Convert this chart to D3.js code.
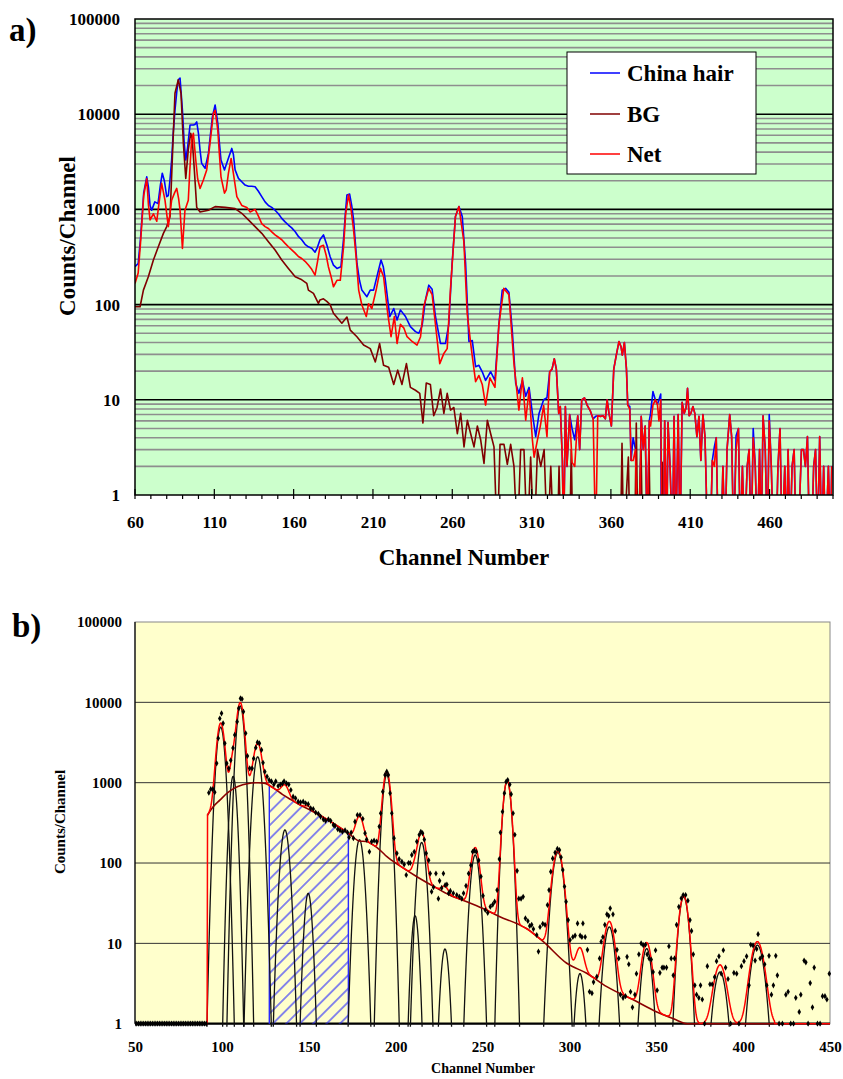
<!DOCTYPE html>
<html><head><meta charset="utf-8">
<script src="https://cdn.jsdelivr.net/npm/d3@7"></script>
<style>
body{margin:0;background:#fff}
svg{display:block}
text{font-family:"Liberation Serif","Times New Roman",serif;font-weight:bold;fill:#000}
</style></head>
<body><svg id="c" width="843" height="1079"></svg>
<script>
// ---------------- Panel a) data : [channel, counts] ----------------
const yTickValues = [1, 10, 100, 1000, 10000, 100000];
const xTicksA = [60, 110, 160, 210, 260, 310, 360, 410, 460];
const xTicksB = [50, 100, 150, 200, 250, 300, 350, 400, 450];
const seriesNames = ["China hair", "BG", "Net"];

const chinaHair = [[60,250],[62,270],[63.5,500],[65.5,1500],[67.4,2200],[68.5,1700],[69.5,1100],[70.5,980],[72.5,1200],[74.5,1150],[76,1800],[77.2,2400],[78.5,2000],[80,1360],[81,1400],[82,2000],[83.1,3300],[84,6000],[85.2,11000],[86.3,17000],[87.3,23000],[88.4,24000],[89.9,11000],[91,5000],[92,3300],[93.2,4550],[94.7,7700],[96.8,7700],[97.8,7800],[98.9,8300],[100,6300],[101,4200],[102,3050],[104.2,2700],[106.3,3900],[107.5,6000],[108.8,9400],[110.5,12500],[112.2,8000],[113.2,5000],[114.2,3300],[116.4,2600],[118.5,3300],[121,4370],[122,3800],[123.1,2600],[125.2,2120],[127.3,1950],[129.4,1800],[131.5,1750],[133.6,1750],[135.7,1730],[137.8,1550],[139.9,1360],[142,1200],[144.1,1100],[146.2,1050],[148.3,980],[150.4,900],[152.5,805],[154.6,740],[156.7,685],[158.8,640],[161,583],[163,520],[165.1,480],[167.2,430],[169.3,405],[171.4,390],[173.5,355],[175,400],[176.6,480],[178.8,540],[181,420],[183,318],[185.1,260],[187.3,240],[189.8,250],[191.5,497],[192.6,900],[193.6,1420],[195.3,1450],[196.6,1100],[197.8,775],[199.9,272],[201.5,180],[203,142],[206.2,121],[208.3,142],[210.4,142],[213,213],[215.1,294],[216.5,250],[217.8,181],[220.6,74.6],[223.1,91],[225.2,69],[227.3,88],[230.5,75],[233.6,58.6],[236.8,52],[238.9,50],[241,60],[243.1,112],[245.2,160],[247.3,145],[249.4,75],[252.6,39],[255.7,39],[257.8,62],[259.9,272],[262,840],[264.2,1070],[266.3,840],[268.4,272],[270.5,41],[272.6,42],[274.7,22.3],[276.8,23],[278.9,19.7],[281,16],[284.2,19.7],[286.9,16],[289.4,62],[291.5,142],[293.6,148],[295.7,135],[297.8,54],[300,14.8],[302,11.7],[304.2,16],[306.3,10.9],[308.4,13.5],[310.5,7.2],[312.6,4.1],[314.7,7.2],[317.6,10],[319.7,10.5],[321.4,19.7],[322.9,21],[324.3,27],[325.6,21],[327.1,7.2],[328.1,8.5],[329.4,2.3],[330.2,0],[331.3,8.5],[332.3,2],[334,7],[335.5,5],[337.2,3.8],[339.1,6.8],[340.3,3],[341.6,10],[343.3,10.5],[345,8.8],[347.1,7.6],[348.8,6.3],[350.4,6.7],[351.7,6.8],[353.4,6.7],[355.1,6.8],[356.5,6.3],[357.6,10],[358.8,7.2],[360.3,5.3],[361.8,21],[363.4,29.5],[365.1,41],[366.4,36],[367.2,29.5],[368.5,40],[369.8,21],[370.6,8.8],[371.9,8.5],[372.7,2.3],[374,4],[375.5,3],[376.6,0],[377.8,0],[379.1,6.7],[380.4,3],[381.6,5.3],[382.9,0],[384.2,6],[385,7.2],[386.5,12.2],[388,10],[389.3,9],[390.3,10],[391.4,11.5],[391.8,0],[393.1,0],[393.9,6],[395.2,0],[396,5.8],[397.3,2],[398.8,0],[399.8,6.7],[400.9,0],[402.4,7],[403.6,0],[404.9,9.4],[406.2,7.2],[407.4,8.3],[408.3,13.2],[409.3,6.8],[410.4,7.2],[411.7,8.5],[412.9,7.2],[414.2,4.1],[415.5,6.7],[416.7,2.3],[418,7],[419.3,4.1],[421,0],[422.6,0],[423.9,2.3],[425.2,3.2],[426.4,4],[427.7,0],[429.4,0],[430.6,2],[431.9,0],[433.2,3],[434.9,7],[436.1,4.1],[437.4,0],[438.9,4.2],[440.4,5],[441.6,0],[442.9,2],[444.2,0],[445.9,2],[447.1,3],[448.4,0],[449.7,5],[451,2],[452.3,0],[453.7,3],[454.8,0],[455.9,6.8],[457.3,3],[458.6,0],[459.8,7],[461.1,2],[462.4,0],[464.1,0],[465.3,2],[466.6,5],[467.9,0],[469.6,2],[470.8,0],[471.7,3],[472.9,0],[474.2,2],[475.5,3],[476.7,0],[478,0],[480.1,3],[481.4,3],[482.6,2],[483.9,4.1],[485.2,0],[486.5,0],[487.8,2],[489,3],[490.3,0],[491.6,4.1],[492.9,0],[494.1,2],[495.4,0],[497.1,2],[498.4,0],[499.2,2]];

const bgA = [[60,95],[63.2,95],[65.3,142],[68.4,196],[71.6,294],[74.7,405],[77.9,560],[80,660],[82.1,840],[83.5,3300],[85.2,16600],[87.3,23000],[89,16600],[90.5,4900],[92,2120],[93.6,4250],[95.1,6300],[96.1,5370],[97.4,2600],[98.9,1050],[101,940],[106.3,980],[110.5,1070],[116.8,1050],[123.1,1020],[127.3,910],[131.5,775],[135.7,660],[139.9,560],[144.1,458],[148.3,375],[152.5,294],[156.7,240],[161,196],[164.5,185],[168.3,167],[169.3,142],[172.5,131],[175.6,103],[176.6,112],[178.8,115],[180.9,108],[183,100],[185.1,81],[190.4,63.7],[193.6,74],[195.7,54],[199.9,46],[204.1,37.6],[208.3,34.5],[211.5,25],[214.2,39],[216.7,23],[219.9,22],[223.1,14.5],[225.6,20.5],[228.3,14.5],[231.1,24],[233.6,13.5],[236.8,12.6],[239.5,11.7],[241.5,5.7],[243.6,15],[246.2,14.5],[248.3,6.8],[250.4,8.3],[252.6,13],[254.7,7.2],[256.8,11.7],[258.9,7.8],[261,8.3],[263.2,4.4],[265.3,7.2],[267.4,3.2],[269.5,6.1],[271.6,4.4],[273.7,3.2],[275.8,5.3],[277.9,3.8],[280,2.15],[282.1,6.1],[284.2,4.4],[286.3,3.2],[288.4,0],[290.1,3.4],[292.6,3.4],[294.7,2.1],[296.8,3.4],[298.9,2],[301,0],[303.1,3],[305.2,3],[307.3,0],[309.4,2.5],[311.6,0],[313.7,3],[315.8,2],[317.9,3],[320,0],[322.1,2],[324,0],[326.3,0],[327.3,2],[328.5,0],[334,0],[335,3],[336,0],[366,0],[367,3.5],[368,0],[371,2.5],[372,0],[375,0],[376,5.7],[377,0],[379,3],[380,0],[383,0],[384,3],[385,0],[391.5,0],[392.4,2.2],[393,0],[500,0]];

const netA = [[60,167],[62,215],[63.5,450],[65.5,1400],[67.4,2100],[68.5,1100],[69.5,775],[71.6,900],[73.7,750],[75.5,1300],[76.8,1880],[78.9,1250],[81,660],[83.1,1250],[85,1500],[86.3,1660],[87.5,1300],[88.4,980],[89.9,390],[91.5,980],[93.6,1250],[94.5,2500],[95.7,5370],[96.8,6300],[98.3,3300],[99.5,2100],[101,1660],[103.1,2040],[105.2,2600],[107.3,4940],[109.4,10200],[110.5,11000],[112.2,6800],[113.2,3800],[114.2,2200],[116.4,1480],[117.5,1600],[118.9,2400],[120.6,3430],[122,2400],[124.2,1360],[127.3,1100],[130.5,1050],[132.6,940],[135.7,1000],[137.8,850],[139.9,710],[142,660],[144.1,630],[146.2,580],[148.3,540],[150.4,510],[152.5,480],[154.6,440],[156.7,405],[158.8,375],[161,347],[163,320],[165.1,305],[167.2,285],[169.3,260],[171.4,235],[173.5,204],[175,280],[176.6,405],[178.8,420],[180.5,330],[181.9,250],[183.5,200],[185.1,154],[187.3,180],[189.4,180],[191.5,405],[192.8,900],[194.6,1420],[196.2,1000],[197.8,606],[199.5,300],[201,142],[203,99],[205.8,75],[207.2,102],[209.3,91],[212,142],[214.7,240],[216.7,196],[219.3,81],[221.4,46],[223.5,75],[225.2,39],[227.3,62],[229.4,57],[231.5,46],[234.7,41],[237.8,37.6],[240,46],[242,95],[245.2,148],[247.3,127],[249.4,62],[252.1,24],[254.7,30.7],[256.8,34.5],[258.9,148],[262,840],[264.2,1070],[267.3,460],[269.4,81],[272,34.5],[274.7,15.5],[276.8,18],[278.9,14.5],[281,8.8],[283.7,17],[286.9,13.5],[289.4,62],[292.5,148],[295.7,127],[298.9,24],[302,7.8],[304.2,17],[306.3,6.1],[308.4,12.6],[310.5,3.8],[311.6,2.5],[313.7,3.8],[315.5,5.3],[317.6,8.7],[319.7,4.1],[321.4,19.7],[322.9,21],[324.3,27],[325.6,21],[327.1,7.2],[328.1,8.5],[329.4,2.3],[330.2,0],[331.3,8.5],[332.3,2],[334,7],[335.5,2.2],[337.2,2],[339.1,6.8],[340.3,3],[341.6,10],[343.3,10.5],[345,8.8],[347.1,7.6],[348.8,6.3],[350.4,0],[351.7,6.8],[353.4,6.7],[355.1,6.8],[356.5,6.3],[357.6,10],[358.8,7.2],[360.3,5.3],[361.8,21],[363.4,29.5],[365.1,41],[366.4,36],[367.2,29.5],[368.5,40],[369.8,21],[370.6,8.8],[371.9,8],[372.7,2.3],[374,2.3],[375.5,3],[376.6,0],[377.8,0],[379.1,6.7],[380.4,3],[381.6,5.3],[382.9,0],[384.2,6],[385,5.3],[386.5,8.8],[388,10],[389.3,9],[390.3,6],[391.4,10],[392.2,0],[393.1,0],[393.9,6],[395.2,0],[396,5.8],[397.3,2],[398.8,0],[399.8,6.7],[400.9,0],[402.4,7],[403.6,0],[404.9,9.4],[406.2,7.2],[407.4,8.3],[408.3,13.2],[409.3,6.8],[410.4,7.2],[411.7,8.5],[412.9,7.2],[414.2,4.1],[415.5,6.7],[416.7,2.3],[418,7],[419.3,4.1],[421,0],[422.6,0],[423.9,2.3],[425.2,2],[426.4,4],[427.7,0],[429.4,0],[430.6,2],[431.9,0],[433.2,3],[434.9,7],[436.1,4.1],[437.4,0],[438.9,3],[440.4,5],[441.6,0],[442.9,2],[444.2,0],[445.9,2],[447.1,3],[448.4,0],[449.7,4],[451,2],[452.3,0],[453.7,3],[454.8,0],[455.9,6.8],[457.3,3],[458.6,0],[459.8,6],[461.1,2],[462.4,0],[464.1,0],[465.3,2],[466.6,5],[467.9,0],[469.6,2],[470.8,0],[471.7,3],[472.9,0],[474.2,2],[475.5,3],[476.7,0],[478,0],[480.1,3],[481.4,3],[482.6,2],[483.9,4.1],[485.2,0],[486.5,0],[487.8,2],[489,3],[490.3,0],[491.6,4.1],[492.9,0],[494.1,2],[495.4,0],[497.1,2],[498.4,0],[499.2,2]];

// ---------------- Panel b) data ----------------
// measured spectrum (dots) : [channel, counts]
const spectrumB = [[50,1],[51,1],[52,1],[53,1],[54,1],[55,1],[56,1],[57,1],[58,1],[59,1],[60,1],[61,1],[62,1],[63,1],[64,1],[65,1],[66,1],[67,1],[68,1],[69,1],[70,1],[71,1],[72,1],[73,1],[74,1],[75,1],[76,1],[77,1],[78,1],[79,1],[80,1],[81,1],[82,1],[83,1],[84,1],[85,1],[86,1],[87,1],[88,1],[89,1],[90,1],[91,1],
[92.5,750],[93.6,830],[94.8,830],[95.9,760],[97,1740],[97.9,3570],[98.8,6300],[99.8,7300],[100.7,5480],[101.7,3090],[102.8,1740],[104,1510],[105.1,1900],[106.4,2700],[107.4,3930],[108.8,5750],[109.7,8430],[110.7,11200],[111.6,11000],[112.4,7650],[113.7,4120],[114.7,2150],[116,1510],[117.4,1510],[118.3,2000],[119.5,2730],[120.5,3180],[121.6,3090],[122.8,2560],[123.7,1770],[124.7,1370],[126,1190],[127.2,1080],[128.5,1040],[129.9,950],[131,1040],[132.4,910],[133.7,950],[134.9,980],[135.8,1040],[137.2,980],[138.5,950],[139.7,810],[141,670],[142.4,640],[143.9,580],[145.3,570],[146.8,580],[148.2,555],[149.7,540],[151.1,480],[152.6,470],[154,425],[155.5,410],[156.8,378],[158.4,350],[159.7,335],[161.3,350],[162.6,335],[164.2,298],[165.1,290],[166.7,263],[168,255],[169.4,245],[170.9,255],[172.3,240],[173.2,209],[174.4,240],[175.7,204],[176.6,327],[178,396],[179.5,396],[181.1,355],[182.4,235],[183.3,196],[184.9,138],[186.2,185],[187.6,190],[189.1,185],[190.6,284],[191.4,416],[192.6,773],[193.9,1250],[194.9,1370],[195.8,1250],[196.8,740],[197.8,416],[199.1,204],[200.7,132],[202,112],[203.6,104],[204.9,96],[206.1,71],[207.4,100],[208.4,100],[209.3,126],[210.7,138],[212.2,185],[213.6,225],[214.5,245],[215.5,235],[216.5,196],[217.6,132],[219,108],[219.9,74],[220.7,44],[221.8,50],[223.2,74],[224.6,36],[225.3,60],[226.5,49],[227.5,74],[228.5,53],[229.5,54],[230.5,42],[231.5,45],[233.2,42],[235.2,40],[236.7,38],[238.1,36],[239.1,42],[240.5,52],[242,74],[243.3,94],[244.3,138],[245.3,143],[246.4,138],[247.8,108],[249.1,68],[250.3,39],[251.6,26],[253,24],[254.5,28.6],[255.9,30.4],[257,33],[258.4,46],[259.7,112],[260.3,240],[261.5,436],[262.6,740],[263.6,1030],[264.5,1080],[265.7,950],[266.5,720],[267.6,416],[268.6,225],[269.9,80],[270.9,36],[272.2,36],[273.4,38],[274.7,20.5],[276.1,19],[277.2,16.5],[278.3,17],[279.3,15.1],[281.2,12.7],[282.2,7.9],[283.1,16],[284.7,17.5],[286,17],[287.4,30],[288.3,46],[289.3,78],[290.4,114],[291.8,135],[293.1,150],[294.3,145],[295.2,118],[296.2,82],[297.2,51],[298.1,33],[299.3,19.5],[300.4,11],[302,12],[303.3,12.5],[304.7,17.7],[306.2,12.5],[307.2,12],[307.8,17.7],[309.1,12],[310.4,8.3],[311.6,2.5],[313,2.4],[313.9,3.3],[315.8,3.85],[317.4,6.5],[318.3,10.5],[319.3,12],[320.4,17],[321.6,23],[322.6,22],[323.5,27.3],[325.1,23],[326.4,14.3],[327.4,8.3],[328.4,6.5],[329.4,2.3],[330.9,2.1],[332.3,2.2],[333.2,6.8],[334.2,5.5],[335.2,2.5],[336.3,1.6],[337.7,2.3],[338.6,4.2],[340,7.3],[341.3,10],[342.5,9.5],[343.8,9.6],[344.8,7.3],[345.9,6.5],[347.1,6.3],[348.2,4.4],[349.6,8.2],[350.5,2.6],[352.1,4.3],[353.4,5],[354.4,5],[355.9,5],[357.3,9.2],[358.6,6.5],[359.8,4],[360.5,6.5],[361.7,17],[363,28.5],[364.4,36.4],[365.5,40],[366.9,40],[368.2,34],[369.4,19.5],[370.3,14.3],[371.3,7.3],[372.2,3],[373.2,2.3],[374.5,2.1],[375.5,3],[376.5,2],[377.8,1],[379.4,5.2],[380.9,3.1],[382.2,3.1],[383.6,3.8],[384.7,6],[386.1,6.9],[387.4,4.2],[388.6,8.2],[389.9,5],[391.3,3.6],[392.8,1],[394.7,4.3],[396.3,4.2],[397.6,1],[399,5.2],[400.5,6],[402,6.9],[403.4,3],[404.4,9.6],[405.7,9.4],[406.9,6.1],[407.8,8.5],[408.6,13],[409.8,6.5],[411.1,6.9],[412.4,5.5],[413.6,3],[414.9,7],[416.3,2.3],[417.4,3],[418.8,7],[419.7,4],[420.7,1],[422.6,1],[424.6,2.3],[425.9,2.5],[427.4,1],[429,1],[430.3,2.1],[432.3,1.4],[433.2,2.3],[435.1,6.1],[436.1,5.8],[437.4,1],[438.6,3.2],[439.9,1.6],[440.9,5],[442.8,1],[444.3,1],[445.7,2.2],[447.1,2.2],[448.2,2],[449.6,4.2]];

// fitted continuum (background) : [channel, counts]
const continuumB = [[91.6,390],[95,500],[99,610],[103,740],[107,850],[112,940],[117,990],[121,1000],[125,980],[129.6,860],[135,710],[140,610],[145,528],[150,465],[155,410],[160,355],[164,313],[170,258],[174,224],[179,188],[183,185],[187,168],[191,145],[195,120],[202.5,92],[212,68],[222,51],[231,40],[241,33],[250,27.4],[260,21.5],[270,17.5],[276,15],[285,10.5],[298.5,5.65],[310,4.24],[321.5,2.89],[337,1.97],[350,1.41],[360,1.15],[368,1.0],[418,1.0]];

// fitted peaks : centre (channel), height (counts), sigma (channels)
const peakCenter = [99.3, 106.5, 110.6, 120.6, 136.3, 149.7, 179.2, 194.9, 211.2, 215.0, 228.4, 245.8, 264.2, 293.4, 306.1, 323.0, 344.5, 365.8, 386.7, 408.2];
const peakHeight = [4900, 1200, 9000, 2100, 258, 42, 195, 1250, 22, 180, 8.5, 126, 1050, 135, 4.2, 16, 8.6, 38, 4.4, 9.5];
const peakSigma  = [1.9, 1.6, 1.8, 2.0, 2.0, 1.7, 2.0, 1.9, 1.6, 2.0, 1.8, 2.1, 1.9, 2.6, 2.0, 2.5, 2.4, 2.3, 3.0, 3.2];

// hatched integration window (channels)
const hatchWindow = [127.3, 172.8];

// ---------------- drawing ----------------
const svg = d3.select("#c");
const defs = svg.append("defs");

// ===== Panel a =====
const A = {l:135, r:833, t:19, b:495};
const xA = d3.scaleLinear().domain([60, 500]).range([A.l, A.r]);
const yA = d3.scaleLog().domain([1, 100000]).range([A.b, A.t]);

defs.append("clipPath").attr("id","clipA").append("rect")
  .attr("x",A.l).attr("y",A.t).attr("width",A.r-A.l).attr("height",A.b-A.t);

svg.append("rect").attr("x",A.l).attr("y",A.t).attr("width",A.r-A.l).attr("height",A.b-A.t).attr("fill","#CCFFCC");

const minorA = [];
for (let d = 0; d < 5; d++) for (let m = 2; m <= 9; m++) minorA.push(m * Math.pow(10, d));
svg.append("g").selectAll("line").data(minorA).join("line")
  .attr("x1",A.l).attr("x2",A.r).attr("y1",d=>yA(d)).attr("y2",d=>yA(d))
  .attr("stroke","#8e8e8e").attr("stroke-width",1.6);
svg.append("g").selectAll("line").data(yTickValues.slice(1,5)).join("line")
  .attr("x1",A.l).attr("x2",A.r).attr("y1",d=>yA(d)).attr("y2",d=>yA(d))
  .attr("stroke","#000").attr("stroke-width",1.6);

const lineA = d3.line().x(d=>xA(d[0])).y(d=>yA(Math.max(d[1], 0.3)));
const gA = svg.append("g").attr("clip-path","url(#clipA)");
gA.append("path").datum(chinaHair).attr("d",lineA).attr("fill","none").attr("stroke","#0000FF").attr("stroke-width",1.6).attr("stroke-linejoin","round");
gA.append("path").datum(bgA).attr("d",lineA).attr("fill","none").attr("stroke","#800000").attr("stroke-width",1.6).attr("stroke-linejoin","round");
gA.append("path").datum(netA).attr("d",lineA).attr("fill","none").attr("stroke","#FF0000").attr("stroke-width",1.6).attr("stroke-linejoin","round");

svg.append("rect").attr("x",A.l).attr("y",A.t).attr("width",A.r-A.l).attr("height",A.b-A.t)
  .attr("fill","none").attr("stroke","#000").attr("stroke-width",1.5);

// x tick marks
svg.append("g").selectAll("line").data(d3.range(60, 501, 10)).join("line")
  .attr("x1",d=>xA(d)).attr("x2",d=>xA(d)).attr("y1",A.b).attr("y2",A.b+4)
  .attr("stroke","#000").attr("stroke-width",1.2);
svg.append("g").selectAll("line").data(xTicksA).join("line")
  .attr("x1",d=>xA(d)).attr("x2",d=>xA(d)).attr("y1",A.b-6).attr("y2",A.b)
  .attr("stroke","#000").attr("stroke-width",1.2);

const axYA = svg.append("g").attr("transform",`translate(${A.l},0)`)
  .call(d3.axisLeft(yA).tickValues(yTickValues).tickSize(0).tickPadding(15).tickFormat(d3.format("d")));
axYA.select(".domain").remove();
axYA.selectAll("text").attr("font-size",17).attr("font-family","Liberation Serif").attr("font-weight","bold").attr("fill","#000");

const axXA = svg.append("g").attr("transform",`translate(0,${A.b})`)
  .call(d3.axisBottom(xA).tickValues(xTicksA).tickSize(0).tickFormat(d3.format("d")));
axXA.select(".domain").remove();
axXA.selectAll("text").attr("y",27).attr("dy","0.35em").attr("font-size",17).attr("font-family","Liberation Serif").attr("font-weight","bold").attr("fill","#000");

svg.append("text").attr("x",464).attr("y",557).attr("dy","0.35em").attr("text-anchor","middle").attr("font-size",23).text("Channel Number");
svg.append("text").attr("transform","translate(67,236) rotate(-90)").attr("dy","0.35em").attr("text-anchor","middle").attr("font-size",23).text("Counts/Channel");
svg.append("text").attr("x",9).attr("y",41).attr("font-size",33).text("a)");

// legend
const leg = svg.append("g");
leg.append("rect").attr("x",567).attr("y",52).attr("width",189).attr("height",122).attr("fill","#fff").attr("stroke","#000").attr("stroke-width",1);
const legColors = ["#0000FF","#800000","#FF0000"];
const legY = [73, 114, 154];
seriesNames.forEach((n,i)=>{
  leg.append("line").attr("x1",590).attr("x2",620).attr("y1",legY[i]).attr("y2",legY[i]).attr("stroke",legColors[i]).attr("stroke-width",1.5);
  leg.append("text").attr("x",627).attr("y",legY[i]).attr("dy","0.33em").attr("font-size",23).text(n);
});

// ===== Panel b =====
const B = {l:135, r:830, t:622, b:1023.7};
const xB = d3.scaleLinear().domain([50, 450]).range([B.l, B.r]);
const yB = d3.scaleLog().domain([1, 100000]).range([B.b, B.t]);

defs.append("clipPath").attr("id","clipB").append("rect")
  .attr("x",B.l).attr("y",B.t).attr("width",B.r-B.l+2).attr("height",B.b-B.t+3);

svg.append("rect").attr("x",B.l).attr("y",B.t).attr("width",B.r-B.l).attr("height",B.b-B.t)
  .attr("fill","#FFFFCC").attr("stroke","#888").attr("stroke-width",1);
svg.append("g").selectAll("line").data(yTickValues.slice(1,5)).join("line")
  .attr("x1",B.l).attr("x2",B.r).attr("y1",d=>yB(d)).attr("y2",d=>yB(d))
  .attr("stroke","#333").attr("stroke-width",1);
svg.append("line").attr("x1",B.l).attr("x2",B.l).attr("y1",B.t).attr("y2",B.b).attr("stroke","#000").attr("stroke-width",1.2);
svg.append("line").attr("x1",B.l).attr("x2",B.r).attr("y1",B.b).attr("y2",B.b).attr("stroke","#000").attr("stroke-width",2.2);

// continuum interpolation (log-linear between read points)
function contAt(ch){
  const c = continuumB;
  if (ch < c[0][0] || ch > c[c.length-1][0]) return 0;
  for (let i = 1; i < c.length; i++){
    if (ch <= c[i][0]){
      const t = (ch - c[i-1][0])/(c[i][0]-c[i-1][0]);
      return Math.exp(Math.log(c[i-1][1])*(1-t) + Math.log(c[i][1])*t);
    }
  }
  return 0;
}
function peakAt(i, ch){
  const d = ch - peakCenter[i];
  return peakHeight[i]*Math.exp(-d*d/(2*peakSigma[i]*peakSigma[i]));
}

// hatch pattern
const pat = defs.append("pattern").attr("id","hatch").attr("patternUnits","userSpaceOnUse")
  .attr("width",9.5).attr("height",9.5).attr("patternTransform","rotate(45)");
pat.append("line").attr("x1",4.75).attr("x2",4.75).attr("y1",0).attr("y2",9.5).attr("stroke","#2828FF").attr("stroke-width",1.1);

const gB = svg.append("g").attr("clip-path","url(#clipB)");
const hatchPts = d3.range(hatchWindow[0], hatchWindow[1]+0.001, 0.5).map(ch=>[ch, contAt(ch)]);
gB.append("path").datum(hatchPts)
  .attr("d", d3.area().x(d=>xB(d[0])).y0(B.b).y1(d=>yB(d[1])))
  .attr("fill","url(#hatch)");
hatchWindow.forEach(ch=>{
  gB.append("line").attr("x1",xB(ch)).attr("x2",xB(ch)).attr("y1",B.b).attr("y2",yB(contAt(ch)))
    .attr("stroke","#2828FF").attr("stroke-width",1.4);
});

// individual peak components
const compLine = d3.line().x(d=>xB(d[0])).y(d=>yB(Math.max(d[1],0.5)));
peakCenter.forEach((c,i)=>{
  const w = peakSigma[i]*Math.sqrt(2*Math.log(peakHeight[i])) + 0.4;
  const pts = d3.range(c-w, c+w+0.001, 0.1).map(ch=>[ch, peakAt(i,ch)]);
  gB.append("path").datum(pts).attr("d",compLine).attr("fill","none").attr("stroke","#111").attr("stroke-width",1.3);
});

// continuum
gB.append("path").datum(continuumB)
  .attr("d", d3.line().x(d=>xB(d[0])).y(d=>yB(d[1])).curve(d3.curveMonotoneX))
  .attr("fill","none").attr("stroke","#8B0000").attr("stroke-width",1.6);

// total fit
const totalPts = d3.range(50, 450.001, 0.25).map(ch=>{
  let v = contAt(ch);
  if (ch >= continuumB[0][0]) peakCenter.forEach((c,i)=>{ v += peakAt(i,ch); });
  return [ch, v];
});
gB.append("path").datum(totalPts)
  .attr("d", d3.line().x(d=>xB(d[0])).y(d=>yB(Math.max(d[1],1))))
  .attr("fill","none").attr("stroke","#FF0000").attr("stroke-width",1.5);

// data points
gB.append("g").selectAll("path").data(spectrumB).join("path")
  .attr("transform",d=>`translate(${xB(d[0])},${yB(Math.max(d[1],1))})`)
  .attr("d", d3.symbol(d3.symbolDiamond, 11))
  .attr("fill","#000");

const axYB = svg.append("g").attr("transform",`translate(${B.l},0)`)
  .call(d3.axisLeft(yB).tickValues(yTickValues).tickSize(0).tickPadding(13).tickFormat(d3.format("d")));
axYB.select(".domain").remove();
axYB.selectAll("text").attr("font-size",15).attr("font-family","Liberation Serif").attr("font-weight","bold").attr("fill","#000");

const axXB = svg.append("g").attr("transform",`translate(0,${B.b})`)
  .call(d3.axisBottom(xB).tickValues(xTicksB).tickSize(0).tickFormat(d3.format("d")));
axXB.select(".domain").remove();
axXB.selectAll("text").attr("y",23).attr("dy","0.35em").attr("font-size",15).attr("font-family","Liberation Serif").attr("font-weight","bold").attr("fill","#000");

svg.append("text").attr("x",483).attr("y",1068).attr("dy","0.35em").attr("text-anchor","middle").attr("font-size",14).text("Channel Number");
svg.append("text").attr("transform","translate(60,822) rotate(-90)").attr("dy","0.35em").attr("text-anchor","middle").attr("font-size",15).text("Counts/Channel");
svg.append("text").attr("x",12).attr("y",637).attr("font-size",33).text("b)");
</script></body></html>
